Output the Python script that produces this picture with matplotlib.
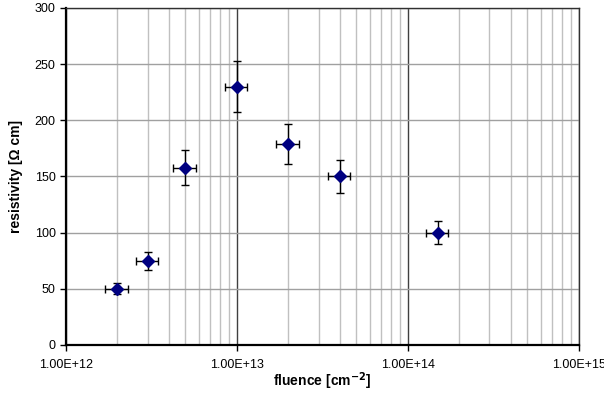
import matplotlib
matplotlib.use('Agg')
import matplotlib.pyplot as plt
import numpy as np
from matplotlib.ticker import FuncFormatter, LogLocator, NullFormatter

plt.rcParams['font.family'] = ['Liberation Sans', 'DejaVu Sans']

fluence = [2e12, 3e12, 5e12, 1e13, 2e13, 4e13, 1.5e14]
resistivity = [50, 75, 158, 230, 179, 150, 100]
res_err = [5, 8, 16, 23, 18, 15, 10]
fluence_err_frac = 0.15

fig = plt.figure(figsize=(6.04, 3.98), dpi=100)
ax = fig.add_axes([0.1093, 0.1332, 0.849, 0.8467])

x = np.array(fluence)
ax.errorbar(x, resistivity, yerr=res_err, xerr=x * fluence_err_frac,
            fmt='D', color='#000080', ms=6, mec='#000080',
            ecolor='black', elinewidth=1, capsize=3, capthick=1, zorder=5)

ax.set_xscale('log')
ax.set_xlim(1e12, 1e15)
ax.set_ylim(0, 300)
ax.set_yticks(range(0, 301, 50))
ax.xaxis.set_major_locator(LogLocator(base=10, numticks=10))
ax.xaxis.set_minor_locator(LogLocator(base=10, subs=np.arange(2, 10), numticks=20))
ax.xaxis.set_minor_formatter(NullFormatter())
ax.xaxis.set_major_formatter(FuncFormatter(lambda v, p: '%.2E' % v))

ax.grid(True, which='minor', axis='x', color='#c0c0c0', lw=1)
ax.grid(True, which='major', axis='x', color='#404040', lw=1)
ax.grid(True, which='major', axis='y', color='#a0a0a0', lw=1)
ax.set_axisbelow(True)

ax.tick_params(which='minor', length=0)
ax.tick_params(which='major', direction='out', length=4, width=1,
               labelsize=9, colors='black')
ax.tick_params(axis='x', pad=6)

for s in ['left', 'bottom']:
    ax.spines[s].set_linewidth(1.6)
for s in ['top', 'right']:
    ax.spines[s].set_linewidth(1.0)
    ax.spines[s].set_color('#303030')

ax.set_xlabel('fluence [cm$^{\\mathbf{-2}}$]', fontsize=10, fontweight='bold', labelpad=0)
ax.set_ylabel('resistivity [Ω cm]', fontsize=10, fontweight='bold', labelpad=8)

fig.savefig('out.png', dpi=100)
